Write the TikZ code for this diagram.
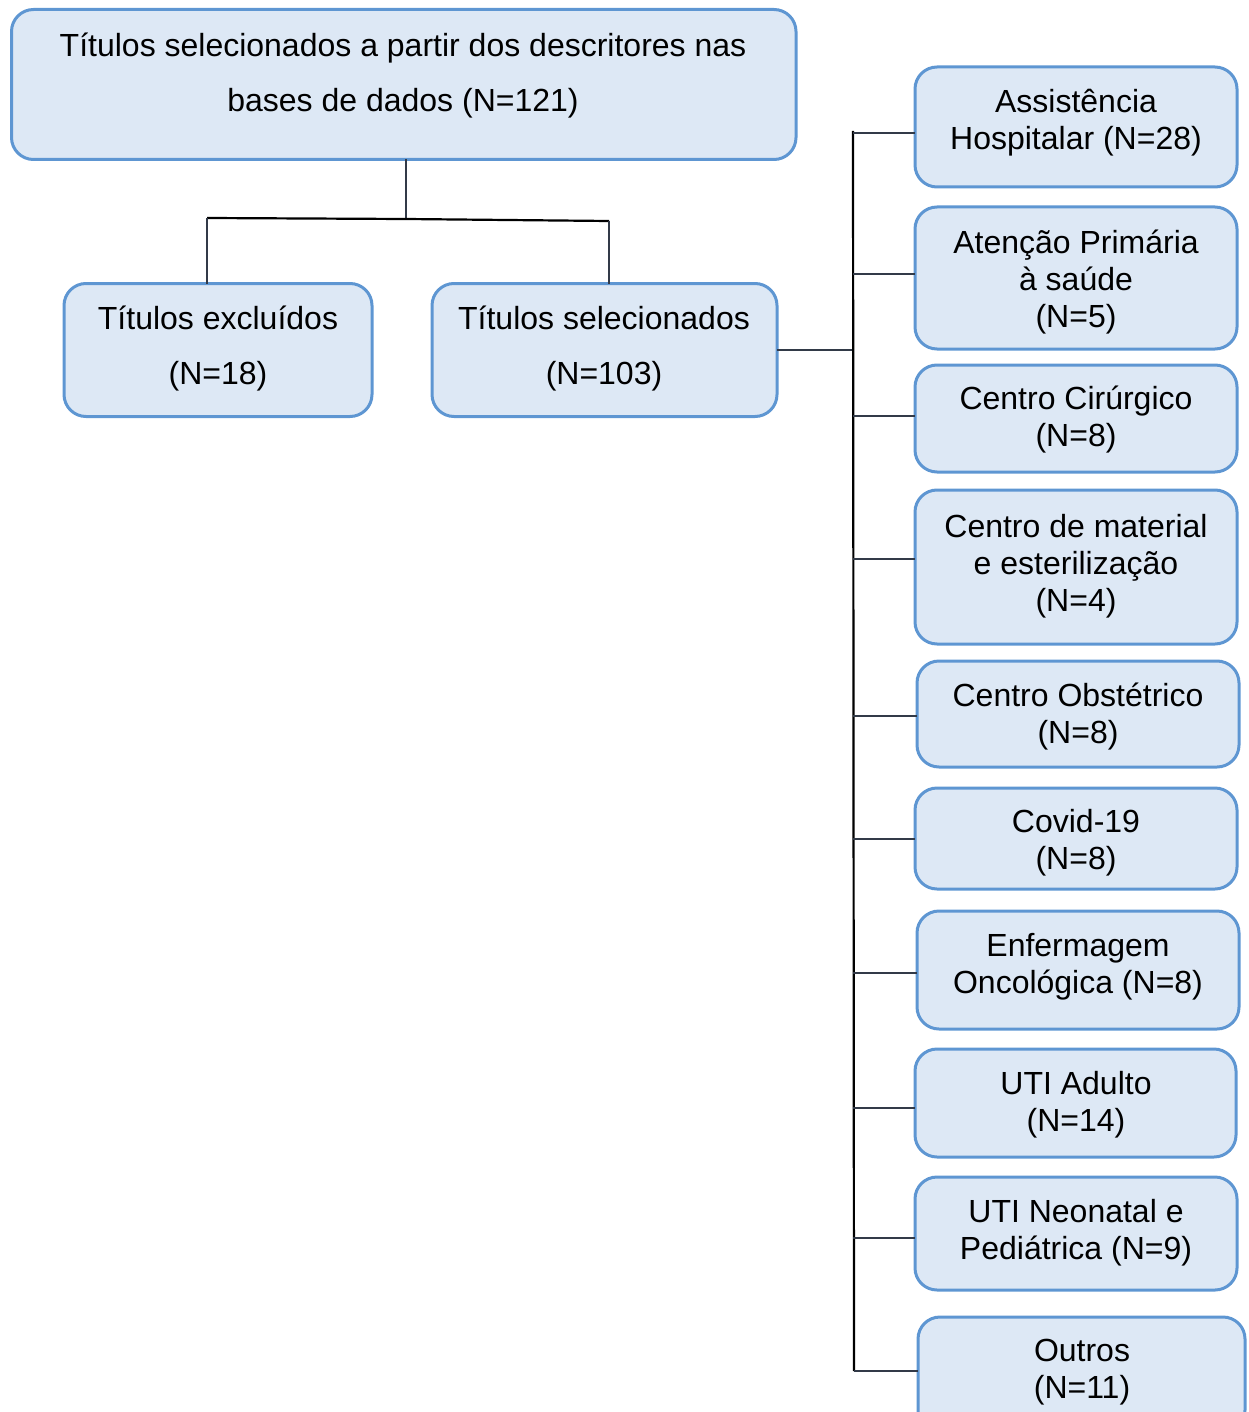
\documentclass[tikz,border=0pt]{standalone}
\usepackage{fontspec}
\setmainfont{Liberation Sans}
\definecolor{boxfill}{RGB}{221,232,245}
\definecolor{boxline}{RGB}{94,150,210}
\definecolor{conn}{RGB}{50,58,72}
\begin{document}
\begin{tikzpicture}[x=0.5pt,y=-0.5pt,
  box/.style 2 args={draw=boxline, fill=boxfill, line width=1.5pt, rounded corners=11pt,
     minimum width=#1*0.5pt, minimum height=#2*0.5pt, inner sep=0pt, outer sep=0pt},
  lbl/.style={align=center, inner sep=0pt, yshift=-1.5pt, font=\fontsize{16}{18.5}\selectfont},
  lblwide/.style={align=center, inner sep=0pt, yshift=-1.5pt, font=\fontsize{16}{27.5}\selectfont},
  link/.style={draw=conn, line width=1pt},
  trunk/.style={draw=black, line width=1.1pt}]
\useasboundingbox (0,0) rectangle (1248,1412);

% boxes
\node[box={784.5}{150}] (top) at (403.75,84.5) {};
\node[box={308}{133}] (excl) at (218,350) {};
\node[box={345}{133}] (sel) at (604.5,350) {};
\node[box={322}{120}] (b1) at (1076,127) {};
\node[box={322}{142}] (b2) at (1076,278) {};
\node[box={322}{107}] (b3) at (1076,418.5) {};
\node[box={322}{154}] (b4) at (1076,567) {};
\node[box={322}{106}] (b5) at (1078,714) {};
\node[box={322}{101}] (b6) at (1076,838.5) {};
\node[box={322}{118}] (b7) at (1078,970) {};
\node[box={321}{108}] (b8) at (1075.5,1103) {};
\node[box={322}{113}] (b9) at (1076,1233.5) {};
\node[box={327}{115}] (b10) at (1081.5,1374.5) {};

% texts
\node[lblwide] (ttop) at (403,72.5) {Títulos selecionados a partir dos descritores nas\\bases de dados (N=121)};
\node[lblwide] (texcl) at (218,345.5) {Títulos excluídos\\(N=18)};
\node[lblwide] (tsel) at (604,345.5) {Títulos selecionados\\(N=103)};
\node[lbl] (t1) at (1076,119.5) {Assistência\\Hospitalar (N=28)};
\node[lbl] (t2) at (1076,279) {Atenção Primária\\à saúde\\(N=5)};
\node[lbl] (t3) at (1076,416.5) {Centro Cirúrgico\\(N=8)};
\node[lbl] (t4) at (1076,563) {Centro de material\\e esterilização\\(N=4)};
\node[lbl] (t5) at (1078,713.5) {Centro Obstétrico\\(N=8)};
\node[lbl] (t6) at (1076,839.5) {Covid-19\\(N=8)};
\node[lbl] (t7) at (1078,963.5) {Enfermagem\\Oncológica (N=8)};
\node[lbl] (t8) at (1076,1101.5) {UTI Adulto\\(N=14)};
\node[lbl] (t9) at (1076,1229.5) {UTI Neonatal e\\Pediátrica (N=9)};
\node[lbl] (t10) at (1082,1369) {Outros\\(N=11)};

% junction coordinates
\coordinate (hj) at (406,219);
\coordinate (hl) at (207,218);
\coordinate (hr) at (609,221);
\coordinate (trtop) at (853,131);
\coordinate (trbot) at (854,1371);
\coordinate (j1) at (853,133);
\coordinate (j2) at (853,274);
\coordinate (j3) at (853,416);
\coordinate (j4) at (853,559);
\coordinate (j5) at (853,716);
\coordinate (j6) at (853,839);
\coordinate (j7) at (853,973);
\coordinate (j8) at (853,1108);
\coordinate (j9) at (853,1238);
\coordinate (j10) at (854,1371);

% connectors
\draw[link] (top.south -| hj) -- (hj);
\draw[trunk] (hl) -- (hj) -- (hr);
\draw[link] (hl) -- (hl |- excl.north);
\draw[link] (hr) -- (hr |- sel.north);
\draw[link] (sel.east) -- (sel.east -| trtop);
\draw[trunk] (trtop) -- (trbot);
\foreach \i in {1,...,10} {
  \draw[link] (j\i) -- (j\i -| b\i.west);
}
\end{tikzpicture}
\end{document}
